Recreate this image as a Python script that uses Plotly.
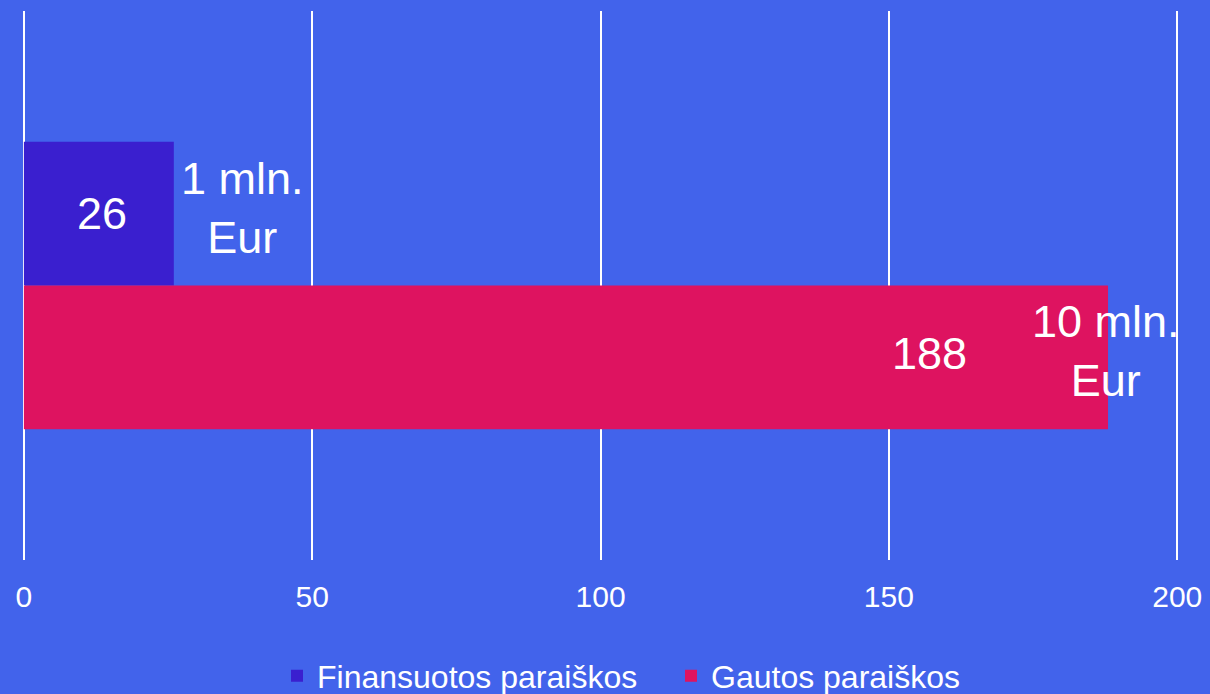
import plotly.graph_objects as go

# Paraiškų skaičius ir suma
series = ["Finansuotos paraiškos", "Gautos paraiškos"]
counts = [26, 188]
sums = ["1 mln.<br>Eur", "10 mln.<br>Eur"]
colors = ["#3A1FCF", "#DE1360"]
category = [""]

BG = "#4263EB"
FONT = "Liberation Sans, Arial, sans-serif"
BARGAP = 0.476

fig = go.Figure()
for name, val, col in zip(series, counts, colors):
    fig.add_trace(go.Bar(
        x=[val], y=category, orientation="h", name=name,
        marker=dict(color=col, line=dict(width=0)),
    ))

# bar centres inside the single category (axis reversed, first trace on top)
half = (1 - BARGAP) / 4
bar_y = [-half, half]
num_shift = [3, -179]
sum_shift = [69, -2]
for i, (val, s) in enumerate(zip(counts, sums)):
    fig.add_annotation(
        x=val / 2 if i == 0 else val, y=bar_y[i], xref="x", yref="y",
        text=str(val), showarrow=False, xanchor="center", yanchor="middle",
        xshift=num_shift[i], yshift=4 if i else 0,
        font=dict(family=FONT, size=45, color="white"),
    )
    fig.add_annotation(
        x=val, y=bar_y[i], xref="x", yref="y",
        text=s, showarrow=False, xanchor="center", yanchor="middle",
        xshift=sum_shift[i], yshift=6, align="center",
        font=dict(family=FONT, size=45, color="white"),
    )

fig.update_layout(
    width=1210, height=694,
    paper_bgcolor=BG, plot_bgcolor=BG,
    barmode="group", bargap=BARGAP, bargroupgap=0,
    margin=dict(l=21, r=27, t=11, b=134, autoexpand=False),
    font=dict(family=FONT, color="white", size=30),
    showlegend=True,
    legend=dict(orientation="h", xref="container", x=277 / 1210, xanchor="left",
                yref="container", y=18 / 694, yanchor="middle",
                font=dict(size=32, color="white"), itemwidth=30,
                entrywidth=349, entrywidthmode="pixels",
                bgcolor="rgba(0,0,0,0)"),
    xaxis=dict(range=[-0.5, 201], tickvals=[0, 50, 100, 150, 200],
               showgrid=True, gridcolor="white", gridwidth=2,
               zeroline=False, showline=False, ticks="", automargin=False,
               tickfont=dict(size=30, color="white"), ticklabelstandoff=16),
    yaxis=dict(visible=False, autorange="reversed", automargin=False),
)

fig.write_html("out.html", config={"displayModeBar": False},
               post_script="document.body.style.margin='0';")
